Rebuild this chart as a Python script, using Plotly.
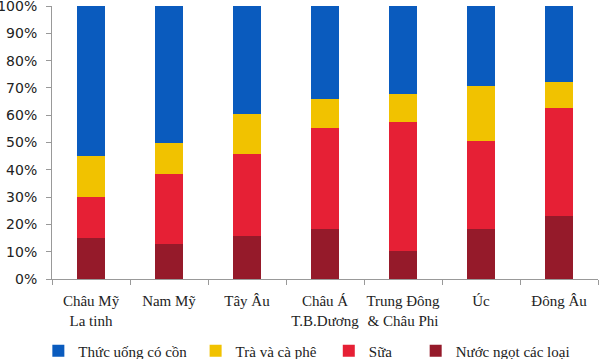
import plotly.graph_objects as go

categories = ["Châu Mỹ<br>La tinh", "Nam Mỹ", "Tây Âu", "Châu Á<br>T.B.Dương",
              "Trung Đông<br>& Châu Phi", "Úc", "Đông Âu"]
nuoc_ngot = [15.0, 12.9, 15.7, 18.2, 10.3, 18.4, 23.2]
sua = [15.1, 25.4, 30.2, 37.0, 47.3, 32.0, 39.5]
tra_caphe = [14.8, 11.4, 14.4, 10.8, 10.3, 20.2, 9.3]
con = [55.1, 50.3, 39.7, 34.0, 32.1, 29.4, 28.0]
tick_vals = [0, 10, 20, 30, 40, 50, 60, 70, 80, 90, 100]
tick_text = [f"{v}%" for v in tick_vals]

NB = "\u00a0"
series = [
    ("Nước ngọt các loại", nuoc_ngot, "#951a2a"),
    ("Sữa" + NB * 5, sua, "#e62035"),
    ("Trà và cà phê" + NB * 2, tra_caphe, "#f1c200"),
    ("Thức uống có cồn" + NB, con, "#0a5bbe"),
]

fig = go.Figure()
for name, vals, col in series:
    fig.add_trace(go.Bar(x=categories, y=vals, name=name, marker_color=col,
                         marker_line_width=0))

serif = "Liberation Serif, Times New Roman, serif"
fig.update_layout(
    barmode="stack",
    bargap=0.64,
    width=600, height=359,
    margin=dict(l=52, r=2, t=6, b=80, autoexpand=False),
    paper_bgcolor="white", plot_bgcolor="white",
    font=dict(family=serif, size=15, color="#222"),
    legend=dict(orientation="h", traceorder="reversed",
                x=-0.025, xanchor="left", y=-0.264, yanchor="middle",
                font=dict(family=serif, size=15, color="#222")),
    xaxis=dict(showline=True, linecolor="#999", linewidth=1, automargin=False,
               tickangle=0, ticklabelstandoff=8,
               ticks="outside", tickson="boundaries", ticklen=5, tickcolor="#999",
               showgrid=False, tickfont=dict(family=serif, size=15, color="#222")),
    yaxis=dict(range=[0, 100.01], tickvals=tick_vals, ticktext=tick_text,
               showline=True, linecolor="#999", linewidth=1, automargin=False,
               ticks="outside", ticklen=5, tickcolor="#999", showgrid=False,
               zeroline=False, ticklabeloverflow="allow", ticklabelstandoff=6,
               tickfont=dict(family="DejaVu Sans, sans-serif", size=14, color="#222")),
)
fig.write_html("out.html", config={"displayModeBar": False},
               post_script="document.body.style.margin='0';document.body.style.padding='0';")
